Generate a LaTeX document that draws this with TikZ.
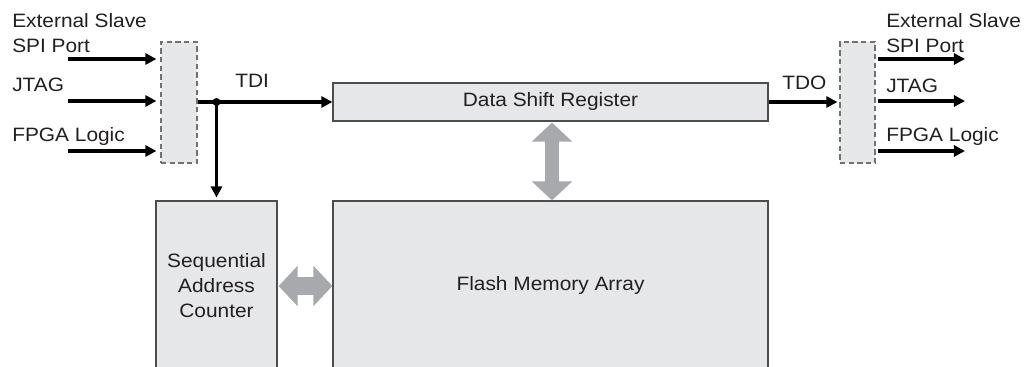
\documentclass[tikz,border=0pt]{standalone}
\usepackage{fontspec}
\setmainfont{Liberation Sans}[FakeStretch=1.08]
\usetikzlibrary{arrows.meta}
\definecolor{boxfill}{HTML}{E6E7E8}
\definecolor{boxline}{HTML}{4D4D4D}
\definecolor{garr}{HTML}{A7A9AC}
\definecolor{txt}{HTML}{231F20}
\tikzset{
  blk/.style={draw=boxline, line width=0.9pt, fill=boxfill, inner sep=0pt, align=center, text=txt},
  dbox/.style={draw=boxline!80, line width=0.9pt, fill=boxfill, dash pattern=on 4pt off 2.5pt, inner sep=0pt},
  arr/.style={line width=2.3pt, -{Triangle[length=8.3pt,width=8.3pt]}},
  garrow/.style={draw=garr, line width=#1, {Triangle[length=14.25pt,width=29.5pt]}-{Triangle[length=14.25pt,width=29.5pt]}},
  lbl/.style={inner sep=0pt, anchor=base west, text=txt},
}
\begin{document}
\begin{tikzpicture}[x=0.75pt,y=-0.75pt,font=\fontsize{14.5}{18.75}\selectfont]
\useasboundingbox (0,0) rectangle (1025,367);
% boxes
\node[dbox, minimum width=27pt, minimum height=90.75pt] (lbox) at (179,102.5) {};
\node[dbox, minimum width=26.25pt, minimum height=90.75pt] (rbox) at (857.5,102.5) {};
\node[blk, minimum width=326.25pt, minimum height=28.5pt] (dsr) at (550.5,102) {Data Shift Register};
\node[blk, minimum width=326.25pt, minimum height=127.5pt] (flash) at (550.5,286) {Flash Memory Array};
\node[blk, minimum width=90.75pt, minimum height=127.5pt] (seq) at (216.5,286) {Sequential\\Address\\Counter};
% left inputs
\coordinate (in1) at (68,59);
\coordinate (in2) at (68,101);
\coordinate (in3) at (68,151);
\node[lbl] (t1a) at (12,28) {External Slave};
\node[lbl] (t1b) at (12,53) {SPI Port};
\node[lbl] (t2) at (12,92) {JTAG};
\node[lbl] (t3) at (12,142) {FPGA Logic};
\foreach \c in {in1,in2,in3}
  \draw[arr, shorten >=3pt] (\c) -- (\c -| lbox.west);
% TDI
\coordinate (j) at (seq.north |- dsr.west);
\draw[arr] (lbox.east |- dsr.west) -- (dsr.west);
\fill (j) circle (3pt);
\draw[arr, shorten >=2.2pt] (j) -- (seq.north);
\node[lbl] (tdi) at (235,88) {TDI};
% TDO
\draw[arr, shorten >=1.5pt] (dsr.east) -- (rbox.west |- dsr.east);
\node[lbl] (tdo) at (782,90) {TDO};
% right outputs
\coordinate (out1) at (965,59);
\coordinate (out2) at (965,101);
\coordinate (out3) at (965,151);
\foreach \c in {out1,out2,out3}
  \draw[arr, shorten <=1.5pt] (rbox.east |- \c) -- (\c);
\node[lbl] (r1a) at (886,28) {External Slave};
\node[lbl] (r1b) at (886,53) {SPI Port};
\node[lbl] (r2) at (886,93) {JTAG};
\node[lbl] (r3) at (886,142) {FPGA Logic};
% gray arrows
\draw[garrow=10.5pt, shorten <=0.75pt] (dsr.south -| 552,0) -- (flash.north -| 552,0);
\draw[garrow=14pt, shorten <=0.75pt] (seq.east) -- (flash.west);
\end{tikzpicture}
\end{document}
